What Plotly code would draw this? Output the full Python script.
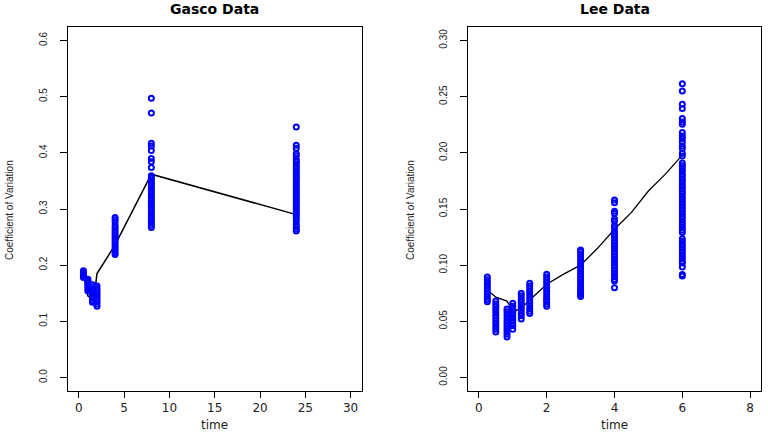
import plotly.graph_objects as go

# ---------------- Gasco data ----------------
gasco_times = [0.5, 1.0, 1.5, 2.0, 4.0, 8.0, 24.0]
gasco_t05 = [0.190, 0.187, 0.184, 0.181, 0.178]
gasco_t1 = [0.175, 0.172, 0.169, 0.166, 0.163, 0.160, 0.157, 0.154]
gasco_t15 = [0.165, 0.161, 0.157, 0.153, 0.149, 0.145, 0.141, 0.137, 0.134]
gasco_t2 = [0.163, 0.159, 0.155, 0.151, 0.147, 0.143, 0.139, 0.135, 0.131, 0.127]
gasco_t4 = [0.285, 0.281, 0.277, 0.270, 0.266, 0.262, 0.258, 0.254, 0.250, 0.246,
            0.242, 0.238, 0.234, 0.230, 0.226, 0.222, 0.219]
gasco_t8 = [0.497, 0.471, 0.417, 0.412, 0.404, 0.390, 0.384, 0.374, 0.359, 0.355,
            0.351, 0.347, 0.343, 0.339, 0.335, 0.331, 0.327, 0.323, 0.319, 0.315,
            0.311, 0.307, 0.303, 0.299, 0.295, 0.291, 0.287, 0.283, 0.279, 0.275,
            0.271, 0.267]
gasco_t24 = [0.446, 0.4135, 0.408, 0.399, 0.395, 0.388, 0.384, 0.380, 0.376, 0.372,
             0.368, 0.364, 0.360, 0.356, 0.352, 0.348, 0.344, 0.340, 0.336, 0.332,
             0.328, 0.324, 0.320, 0.316, 0.312, 0.308, 0.304, 0.300, 0.296, 0.292,
             0.288, 0.284, 0.279, 0.273, 0.268, 0.264, 0.261]
gasco_values = [gasco_t05, gasco_t1, gasco_t15, gasco_t2, gasco_t4, gasco_t8, gasco_t24]

gasco_line_t = [0.5, 1.0, 1.5, 1.85, 2.0, 4.0, 8.0, 24.0]
gasco_line_v = [0.183, 0.145, 0.140, 0.165, 0.185, 0.236, 0.362, 0.290]

# ---------------- Lee data ----------------
lee_times = [0.25, 0.5, 0.83, 1.0, 1.25, 1.5, 2.0, 3.0, 4.0, 6.0]
lee_t025 = [0.0895, 0.087, 0.0845, 0.082, 0.0795, 0.077, 0.0745, 0.072, 0.0695, 0.0675]
lee_t05 = [0.068, 0.0655, 0.063, 0.0605, 0.058, 0.0555, 0.053, 0.0505, 0.048, 0.0455,
           0.043, 0.0405]
lee_t083 = [0.061, 0.0585, 0.056, 0.0535, 0.051, 0.0485, 0.046, 0.0435, 0.041, 0.0385,
            0.036]
lee_t1 = [0.066, 0.0635, 0.061, 0.0585, 0.056, 0.0535, 0.051, 0.0485, 0.046, 0.043]
lee_t125 = [0.075, 0.0725, 0.070, 0.0675, 0.065, 0.0625, 0.060, 0.0575, 0.055, 0.052]
lee_t15 = [0.084, 0.0815, 0.079, 0.0765, 0.074, 0.0715, 0.069, 0.0665, 0.064, 0.0615,
           0.059, 0.057]
lee_t2 = [0.092, 0.0895, 0.087, 0.0845, 0.082, 0.0795, 0.077, 0.0745, 0.072, 0.070,
          0.068, 0.0655, 0.0635]
lee_t3 = [0.1135, 0.112, 0.1095, 0.107, 0.1045, 0.102, 0.0995, 0.097, 0.0945, 0.092,
          0.0895, 0.087, 0.0845, 0.082, 0.0795, 0.077, 0.0755, 0.074, 0.0722]
lee_t4 = [0.158, 0.1555, 0.148, 0.146, 0.141, 0.139, 0.135, 0.133, 0.130, 0.1275,
          0.125, 0.1225, 0.120, 0.1175, 0.115, 0.1125, 0.110, 0.1075, 0.105, 0.1025,
          0.100, 0.0975, 0.095, 0.0925, 0.090, 0.0875, 0.086, 0.080]
lee_t6 = [0.2615, 0.255, 0.2432, 0.2394, 0.2305, 0.2275, 0.2254, 0.218, 0.215, 0.2127,
          0.2097, 0.206, 0.2038, 0.1996, 0.1972, 0.1910, 0.1885, 0.1860, 0.1835, 0.1810,
          0.1785, 0.1760, 0.1735, 0.1710, 0.1685, 0.1660, 0.1635, 0.1610, 0.1585, 0.1560,
          0.1535, 0.1510, 0.1485, 0.1460, 0.1435, 0.1410, 0.1385, 0.1360, 0.1335, 0.1310,
          0.1290, 0.1236, 0.1211, 0.1186, 0.1161, 0.1136, 0.1111, 0.1086, 0.1061, 0.1036,
          0.1020, 0.0983, 0.0918, 0.0903]
lee_values = [lee_t025, lee_t05, lee_t083, lee_t1, lee_t125, lee_t15, lee_t2, lee_t3,
              lee_t4, lee_t6]

lee_line_t = [0.25, 0.5, 0.83, 0.9, 1.0, 1.25, 1.5, 2.0, 2.5, 3.0, 3.5, 4.0, 4.5, 5.0, 5.5, 6.0]
lee_line_v = [0.078, 0.0715, 0.068, 0.0645, 0.058, 0.062, 0.069, 0.083, 0.092, 0.100,
              0.115, 0.132, 0.147, 0.166, 0.181, 0.198]

gasco_xticks = [0, 5, 10, 15, 20, 25, 30]
gasco_yticks = [0.0, 0.1, 0.2, 0.3, 0.4, 0.5, 0.6]
lee_xticks = [0, 2, 4, 6, 8]
lee_yticks = [0.00, 0.05, 0.10, 0.15, 0.20, 0.25, 0.30]


def flatten(times, values):
    xs, ys = [], []
    for t, vals in zip(times, values):
        for v in vals:
            xs.append(t)
            ys.append(v)
    return xs, ys


BLUE = "#0000ff"
NARROW = "Liberation Sans, Arial, sans-serif"
WIDE = "DejaVu Sans, Verdana, sans-serif"

fig = go.Figure()

gx, gy = flatten(gasco_times, gasco_values)
lx, ly = flatten(lee_times, lee_values)

marker_style = dict(symbol="circle-open", size=5, color=BLUE,
                    line=dict(width=2.0, color=BLUE))

fig.add_trace(go.Scatter(x=gasco_line_t, y=gasco_line_v, mode="lines",
                         line=dict(color="black", width=1.5), xaxis="x", yaxis="y",
                         showlegend=False, hoverinfo="skip"))
fig.add_trace(go.Scatter(x=gx, y=gy, mode="markers", marker=marker_style,
                         xaxis="x", yaxis="y", showlegend=False))
fig.add_trace(go.Scatter(x=lee_line_t, y=lee_line_v, mode="lines",
                         line=dict(color="black", width=1.3), xaxis="x2", yaxis="y2",
                         showlegend=False, hoverinfo="skip"))
fig.add_trace(go.Scatter(x=lx, y=ly, mode="markers", marker=marker_style,
                         xaxis="x2", yaxis="y2", showlegend=False))

W, H = 768, 435


def px_x(p):
    return p / W


def px_y(p):
    return (H - p) / H


common_x = dict(showline=True, mirror=True, linecolor="black", linewidth=1,
                ticks="outside", ticklen=6, tickcolor="black", showgrid=False,
                zeroline=False, tickfont=dict(family=WIDE, size=12, color="#222"))
common_y = dict(showline=True, mirror=True, linecolor="black", linewidth=1,
                ticks="outside", ticklen=7, tickcolor="black", showgrid=False,
                zeroline=False, tickangle=-90, ticklabelstandoff=9,
                tickfont=dict(family=NARROW, size=10, color="#222"))

fig.update_layout(
    width=W, height=H,
    margin=dict(l=0, r=0, t=0, b=0),
    paper_bgcolor="white", plot_bgcolor="white",
    xaxis=dict(domain=[px_x(68), px_x(361.5)], range=[-1.2, 31.2],
               tickvals=gasco_xticks, ticktext=[str(v) for v in gasco_xticks],
               anchor="y", **common_x),
    yaxis=dict(domain=[px_y(391), px_y(27)], range=[-0.024, 0.624],
               tickvals=gasco_yticks, ticktext=[f"{v:.1f}" for v in gasco_yticks],
               anchor="x", **common_y),
    xaxis2=dict(domain=[px_x(468), px_x(761)], range=[-0.32, 8.32],
                tickvals=lee_xticks, ticktext=[str(v) for v in lee_xticks],
                anchor="y2", **common_x),
    yaxis2=dict(domain=[px_y(391), px_y(27)], range=[-0.012, 0.312],
                tickvals=lee_yticks, ticktext=[f"{v:.2f}" for v in lee_yticks],
                anchor="x2", **common_y),
)

annotations = [
    dict(text="<b>Gasco Data</b>", x=px_x(214.7), y=px_y(9), xref="paper", yref="paper",
         showarrow=False, xanchor="center", yanchor="middle",
         font=dict(family=WIDE, size=14, color="black")),
    dict(text="<b>Lee Data</b>", x=px_x(614.5), y=px_y(9), xref="paper", yref="paper",
         showarrow=False, xanchor="center", yanchor="middle",
         font=dict(family=WIDE, size=14, color="black")),
    dict(text="time", x=px_x(214.7), y=px_y(425), xref="paper", yref="paper",
         showarrow=False, xanchor="center", yanchor="middle",
         font=dict(family=WIDE, size=12, color="#222")),
    dict(text="time", x=px_x(614.5), y=px_y(425), xref="paper", yref="paper",
         showarrow=False, xanchor="center", yanchor="middle",
         font=dict(family=WIDE, size=12, color="#222")),
    dict(text="Coefficient of Variation", x=px_x(10), y=px_y(210), xref="paper",
         yref="paper", showarrow=False, xanchor="center", yanchor="middle",
         textangle=-90, font=dict(family=NARROW, size=10, color="#222")),
    dict(text="Coefficient of Variation", x=px_x(411), y=px_y(210), xref="paper",
         yref="paper", showarrow=False, xanchor="center", yanchor="middle",
         textangle=-90, font=dict(family=NARROW, size=10, color="#222")),
]
fig.update_layout(annotations=annotations)

fig.write_html("out.html",
               config={"displayModeBar": False},
               post_script="document.body.style.margin='0px';"
                           "document.body.style.overflow='hidden';")
